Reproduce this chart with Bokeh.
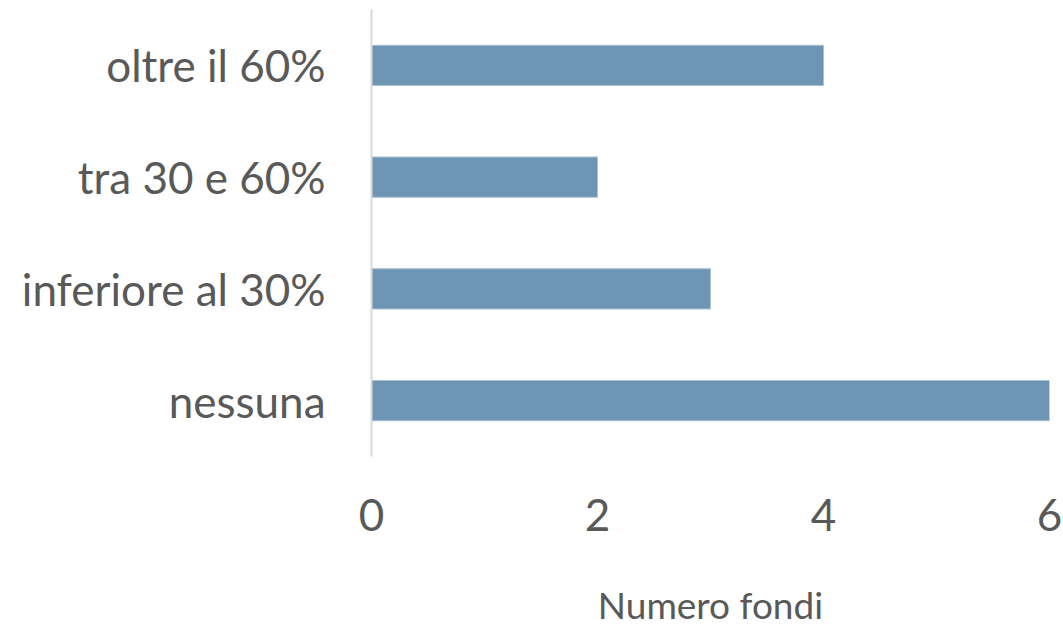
from bokeh.plotting import figure
from bokeh.models import ColumnDataSource, Range1d, FactorRange, FixedTicker
from bokeh.embed import file_html
from bokeh.resources import INLINE

categories = ["nessuna", "inferiore al 30%", "tra 30 e 60%", "oltre il 60%"]
values = [6, 3, 2, 4]
x_ticks = [0, 2, 4, 6]
x_label = "Numero fondi"

src = ColumnDataSource(dict(cat=categories, val=values))

p = figure(width=1063, height=629, output_backend="svg", toolbar_location=None,
           y_range=FactorRange(factors=categories), x_range=Range1d(0, 6),
           min_border_left=371, min_border_right=14, min_border_top=9, min_border_bottom=173)

p.hbar(y="cat", right="val", left=0, height=0.36, source=src,
       fill_color="#6E96B4", line_color="#A9C0D2", line_width=1)

font = "Lato"
txt = "#595959"

p.xaxis.ticker = FixedTicker(ticks=x_ticks)
p.xaxis.axis_line_color = None
p.xaxis.major_tick_line_color = None
p.xaxis.minor_tick_line_color = None
p.xaxis.major_label_text_font = font
p.xaxis.major_label_text_font_size = "44px"
p.xaxis.major_label_text_color = txt
p.xaxis.major_label_standoff = 36
p.xaxis.axis_label = x_label
p.xaxis.axis_label_text_font = font
p.xaxis.axis_label_text_font_size = "37px"
p.xaxis.axis_label_text_font_style = "normal"
p.xaxis.axis_label_text_color = txt
p.xaxis.axis_label_standoff = 48

p.yaxis.axis_line_color = "#D9D9D9"
p.yaxis.axis_line_width = 2
p.yaxis.major_tick_line_color = None
p.yaxis.minor_tick_line_color = None
p.yaxis.major_label_text_font = font
p.yaxis.major_label_text_font_size = "44px"
p.yaxis.major_label_text_color = txt
p.yaxis.major_label_standoff = 40

p.grid.grid_line_color = None
p.outline_line_color = None
p.background_fill_color = "white"
p.border_fill_color = "white"

open("out.html", "w").write(file_html(p, INLINE))
